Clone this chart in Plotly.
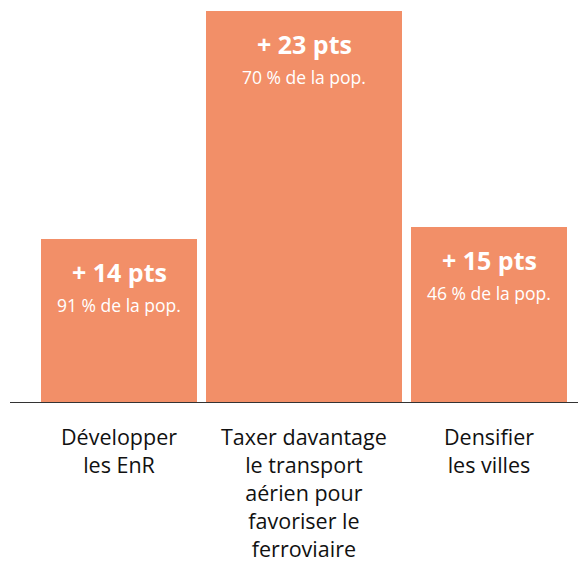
import plotly.graph_objects as go

categories = ["Développer<br>les EnR",
              "Taxer davantage<br>le transport<br>aérien pour<br>favoriser le<br>ferroviaire",
              "Densifier<br>les villes"]
points_labels = ["+ 14 pts", "+ 23 pts", "+ 15 pts"]
pop_labels = ["91 % de la pop.", "70 % de la pop.", "46 % de la pop."]
bar_heights = [163, 391, 175]
bar_widths = [156, 196, 156]

GAP = 9
START = 31
centers = []
pos = START
for w in bar_widths:
    centers.append(pos + w / 2)
    pos += w + GAP

COLOR = "#F28F68"
FONT = "Open Sans"

fig = go.Figure(go.Bar(
    x=centers, y=bar_heights, width=bar_widths,
    marker=dict(color=COLOR, line=dict(width=0)),
    hoverinfo="skip",
))

ann = []
for c, h, p, s, cat in zip(centers, bar_heights, points_labels, pop_labels, categories):
    ann.append(dict(x=c, y=h, xref="x", yref="y", text=f"<b>{p}</b>", showarrow=False,
                    yanchor="middle", yshift=-33,
                    font=dict(family=FONT, size=25, color="white")))
    ann.append(dict(x=c, y=h, xref="x", yref="y", text=s, showarrow=False,
                    yanchor="middle", yshift=-66,
                    font=dict(family=FONT, size=17.5, color="white")))
    ann.append(dict(x=c, y=0, xref="x", yref="y", text=cat, showarrow=False,
                    yanchor="top", yshift=-19, borderpad=0,
                    font=dict(family=FONT, size=21.5, color="#111111")))

fig.update_layout(
    width=578, height=557,
    margin=dict(l=2, r=0, t=0, b=163),
    paper_bgcolor="white", plot_bgcolor="white",
    showlegend=False,
    annotations=ann,
    xaxis=dict(range=[0, 576], showgrid=False, zeroline=False, showticklabels=False,
               showline=True, linecolor="#333333", linewidth=1, ticks=""),
    yaxis=dict(range=[0, 394], showgrid=False, zeroline=False, showticklabels=False,
               showline=False),
)

fig.write_html("out.html")
